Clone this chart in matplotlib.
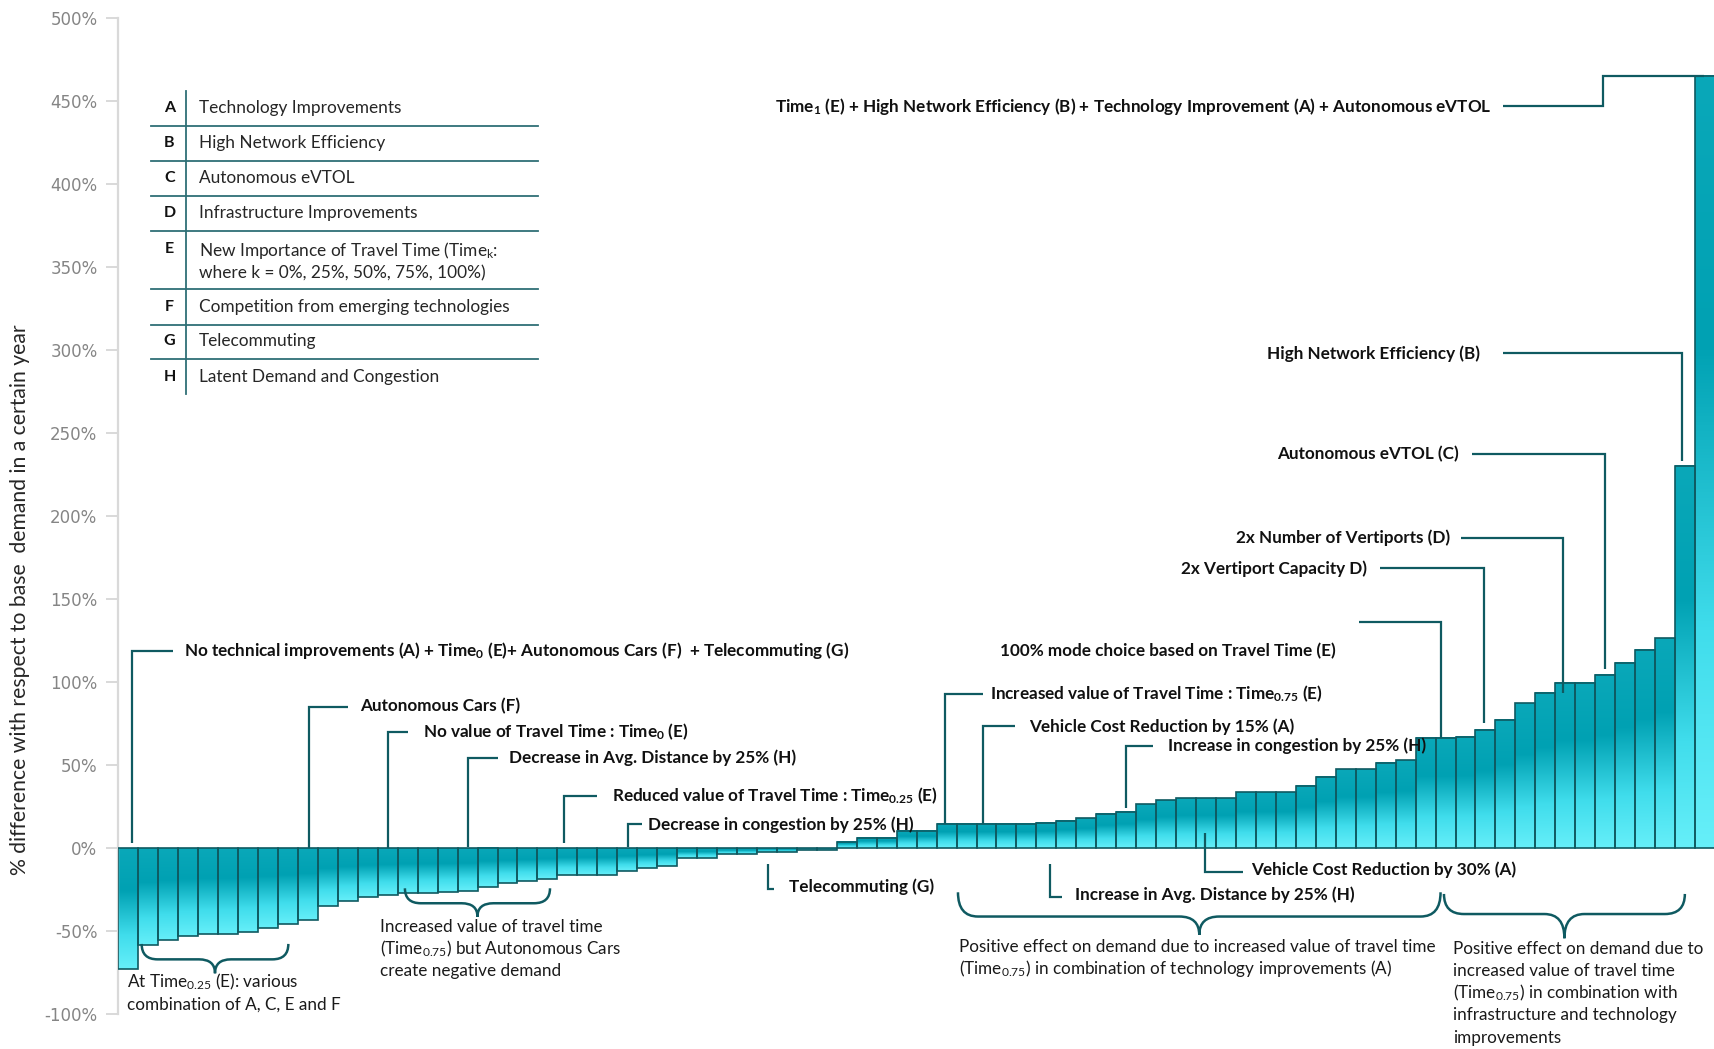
import numpy as np
import matplotlib.pyplot as plt
from matplotlib.colors import LinearSegmentedColormap
from matplotlib.path import Path
from matplotlib.patches import PathPatch
from matplotlib.lines import Line2D

plt.rcParams['font.family'] = ['Lato', 'DejaVu Sans']
plt.rcParams['mathtext.default'] = 'regular'

W, H = 1715, 1049
EDGE = '#0F5A61'
LINE = '#0F5A61'
TXT = '#111111'

# % difference in demand for each scenario (sorted)
demand_change = [
    -72.7, -58.0, -55.2, -53.0, -51.6, -51.6, -50.6, -48.0, -45.6, -43.0,
    -34.5, -31.7, -29.5, -28.1, -27.0, -27.0, -26.5, -25.5, -23.5, -21.0,
    -19.5, -18.5, -16.0, -16.0, -16.0, -13.5, -12.0, -10.8, -6.0, -6.0,
    -3.4, -3.4, -2.4, -2.4, -1.0, -1.0, 4.0, 6.2, 6.2, 10.3,
    10.3, 14.5, 14.5, 14.5, 14.5, 14.5, 15.5, 16.7, 18.0, 20.5,
    21.7, 26.5, 28.9, 30.0, 30.0, 30.0, 33.7, 33.7, 33.7, 37.8,
    42.8, 47.5, 47.5, 51.5, 53.0, 66.3, 66.3, 67.3, 71.3, 77.3,
    87.3, 93.4, 99.4, 99.4, 104.4, 111.8, 119.5, 126.5, 230.3, 465.5,
]

y_ticks = list(range(-100, 501, 50))
y_ticklabels = [f"{t}%" for t in y_ticks]

legend_keys = ['A', 'B', 'C', 'D', 'E', 'F', 'G', 'H']
legend_desc = [
    'Technology Improvements',
    'High Network Efficiency',
    'Autonomous eVTOL',
    'Infrastructure Improvements',
    'New Importance of Travel Time (Time$_k$:\nwhere k = 0%, 25%, 50%, 75%, 100%)',
    'Competition from emerging technologies',
    'Telecommuting',
    'Latent Demand and Congestion',
]

# labels pointing up from a bar: (text, bar, dx, gap, y_level, x_end, x_text)
up_labels = [
    ('No technical improvements (A) + Time$_0$ (E)+ Autonomous Cars (F)  + Telecommuting (G)',
     0, 0.2, 3, 119, 2.23, 2.78),
    ('Autonomous Cars (F)', 9, 0.03, 0, 85.4, 11.0, 11.6),
    ('No value of Travel Time : Time$_0$ (E)', 13, 0.03, 0, 70, 14.0, 14.76),
    ('Decrease in Avg. Distance by 25% (H)', 17, 0.02, 1, 54.4, 18.5, 19.1),
    ('Reduced value of Travel Time : Time$_{0.25}$ (E)', 22, -0.15, 3, 31.8, 23.48, 24.26),
    ('Decrease in congestion by 25% (H)', 25, 0.02, 1, 14.4, 25.72, 26.02),
    ('Increased value of Travel Time : Time$_{0.75}$ (E)', 41, -0.08, 0, 93.2, 42.82, 43.2),
    ('Vehicle Cost Reduction by 15% (A)', 43, -0.18, 0, 73.4, 44.42, 45.13),
    ('Increase in congestion by 25% (H)', 50, -0.03, 2.5, 61.8, 51.34, 52.09),
]

# labels below the axis: (text, bar, dx, y_start, y_level, x_end, x_text)
down_labels = [
    ('Telecommuting (G)', 32, 0.07, -9.5, -24.7, 32.35, 33.1),
    ('Increase in Avg. Distance by 25% (H)', 46, 0.18, -9.5, -29.3, 46.78, 47.43),
    ('Vehicle Cost Reduction by 30% (A)', 54, -0.06, 9.2, -14.1, 55.85, 56.28),
]

# labels to the left of a bar: (text, bar, dx, end_offset, y_level, x_start, x_text)
left_labels = [
    ('High Network Efficiency (B)', 78, -0.15, 3, 298.2, 68.87, 67.72),
    ('Autonomous eVTOL (C)', 74, -0.02, 3.4, 237.5, 67.34, 66.67),
    ('2x Number of Vertiports (D)', 72, -0.1, -6, 187.1, 66.78, 66.23),
    ('2x Vertiport Capacity D)', 68, -0.06, 4, 168.7, 62.73, 62.05),
    ('', 66, -0.23, 0, 136.5, 61.66, None),
]

# curly brackets: (x_left, x_right, y_ends, y_flat, y_tip, radius, lines, x_text, first_baseline)
brackets = [
    (0.67, 8.02, -57.6, -66.9, -75.3, 0.8,
     ['At Time$_{0.25}$ (E): various', 'combination of A, C, E and F'], -0.08, -84.0),
    (13.86, 21.13, -24.1, -33.1, -41.2, 0.8,
     ['Increased value of travel time', '(Time$_{0.75}$) but Autonomous Cars',
      'create negative demand'], 12.6, -50.3),
    (41.57, 65.75, -26.5, -41.1, -52.2, 1.0,
     ['Positive effect on demand due to increased value of travel time',
      '(Time$_{0.75}$) in combination of technology improvements (A)'], 41.63, -62.2),
    (65.92, 77.99, -27.5, -39.6, -54.2, 1.0,
     ['Positive effect on demand due to', 'increased value of travel time',
      '(Time$_{0.75}$) in combination with', 'infrastructure and technology',
      'improvements'], 66.35, -63.5),
]
LINE_PITCH = 13.4

fig = plt.figure(figsize=(W / 100, H / 100), dpi=100)
ax = fig.add_axes([118.3 / W, 1 - 1014.3 / H, 1 - 118.3 / W, (1014.3 - 18.3) / H])

cmap = LinearSegmentedColormap.from_list(
    'bar', [(0, '#0AA8B9'), (0.35, '#00A1B3'), (0.72, '#40DDEC'), (1.0, '#66EFF9')])
grad = np.linspace(0, 1, 256).reshape(-1, 1)
x = np.arange(len(demand_change))
for i, v in zip(x, demand_change):
    ax.imshow(grad, cmap=cmap, aspect='auto', origin='upper', interpolation='bilinear',
              extent=(i - 0.5, i + 0.5, min(v, 0), max(v, 0)), zorder=2)
ax.bar(x, demand_change, width=1.0, facecolor='none', edgecolor=EDGE, linewidth=1.2, zorder=3)

ax.set_xlim(-0.5, len(demand_change) - 0.5)
ax.set_ylim(-100, 500)
ax.set_yticks(y_ticks)
ax.set_yticklabels(y_ticklabels, family='DejaVu Sans', fontsize=12, color='#858585')
ax.set_xticks([])
for s in ['top', 'right', 'bottom']:
    ax.spines[s].set_visible(False)
ax.spines['left'].set_color('#D9D9D9')
ax.spines['left'].set_linewidth(1.6)
ax.tick_params(axis='y', length=9, width=1.4, color='#D9D9D9', pad=6)
ax.patch.set_visible(False)

fig.text(19.7 / W, 1 - 600 / H, '% difference with respect to base  demand in a certain year',
         rotation=90, ha='center', va='center', fontsize=15.2, color='#262626')

lk = dict(color=LINE, lw=1.6, solid_capstyle='butt', solid_joinstyle='miter', zorder=4, clip_on=False)
tk = dict(fontsize=12.3, fontweight='bold', color=TXT, va='center', zorder=5)

for text, b, dx, gap, yl, xe, xt in up_labels:
    xv = b + dx
    y0 = max(demand_change[b], 0) + gap
    ax.plot([xv, xv, xe], [y0, yl, yl], **lk)
    ax.text(xt, yl, text, ha='left', **tk)

for text, b, dx, ys, yl, xe, xt in down_labels:
    xv = b + dx
    ax.plot([xv, xv, xe], [ys, yl, yl], **lk)
    ax.text(xt, yl + 1.3, text, ha='left', **tk)

for text, b, dx, off, yl, xs, xt in left_labels:
    xv = b + dx
    ax.plot([xs, xv, xv], [yl, yl, demand_change[b] + off], **lk)
    if xt is not None:
        ax.text(xt, yl, text, ha='right', **tk)

ax.text(43.7, 119, '100% mode choice based on Travel Time (E)', ha='left', **tk)

top = len(demand_change) - 1
ax.plot([68.87, 73.9, 73.9, top - 0.05], [447, 447, demand_change[top], demand_change[top]], **lk)
ax.text(68.32, 447,
        'Time$_1$ (E) + High Network Efficiency (B) + Technology Improvement (A) + Autonomous eVTOL',
        ha='right', **tk)

for x0, x1, ye, yf, yt, r, lines, xt, yb in brackets:
    xm = (x0 + x1) / 2
    verts = [(x0, ye), (x0, yf), (x0 + r, yf), (xm - r, yf), (xm, yf), (xm, yt),
             (xm, yf), (xm + r, yf), (x1 - r, yf), (x1, yf), (x1, ye)]
    codes = [Path.MOVETO, Path.CURVE3, Path.CURVE3, Path.LINETO, Path.CURVE3, Path.CURVE3,
             Path.CURVE3, Path.CURVE3, Path.LINETO, Path.CURVE3, Path.CURVE3]
    ax.add_patch(PathPatch(Path(verts, codes), facecolor='none', edgecolor=LINE,
                           lw=1.8, zorder=4, clip_on=False))
    for k, line in enumerate(lines):
        ax.text(xt, yb - k * LINE_PITCH, line, ha='left', va='baseline', fontsize=12.3,
                color='#1A1A1A', zorder=5)

# legend table
row_lines = [125.8, 160.8, 195.8, 230.8, 288.8, 324.9, 358.8]
row_y = [108.3, 143.3, 178.3, 213.3, 260.9, 307.4, 341.3, 377.4]
for yl in row_lines:
    fig.add_artist(Line2D([151 / W, 538 / W], [1 - yl / H, 1 - yl / H],
                          color='#2F6F76', lw=1.3, transform=fig.transFigure))
fig.add_artist(Line2D([186 / W, 186 / W], [1 - 90.8 / H, 1 - 393.8 / H],
                      color='#2F6F76', lw=1.3, transform=fig.transFigure))
for key, desc, yr in zip(legend_keys, legend_desc, row_y):
    ky = yr - 11.5 if key == 'E' else yr
    fig.text(169.5 / W, 1 - ky / H, key, ha='center', va='center', fontsize=11.5,
             fontweight='bold', color=TXT)
    fig.text(199 / W, 1 - yr / H, desc, ha='left', va='center', fontsize=12.4,
             color='#262626', linespacing=1.3)

fig.savefig('out.png', dpi=100)
